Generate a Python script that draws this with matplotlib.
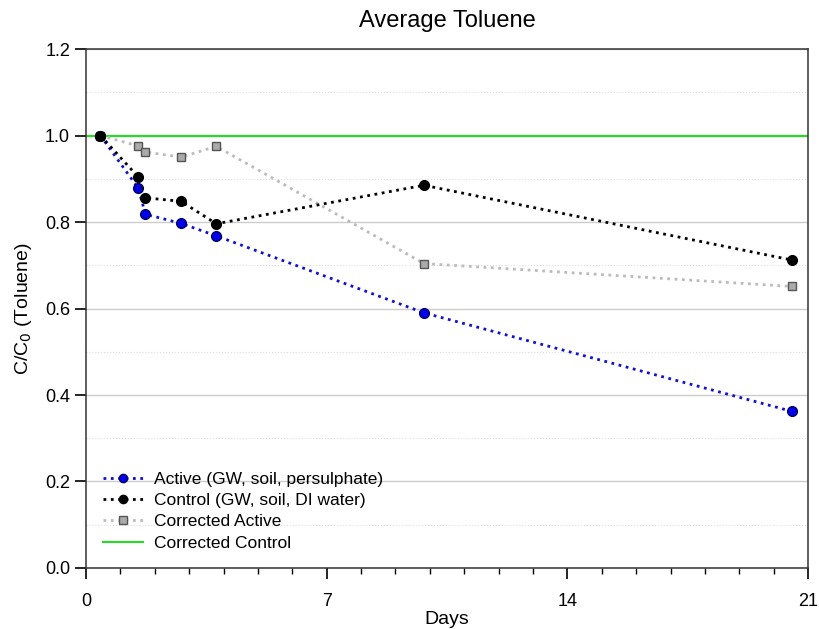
import numpy as np
import matplotlib.pyplot as plt
from matplotlib.ticker import MultipleLocator

plt.rcParams['font.family'] = ['Liberation Sans', 'DejaVu Sans']

# sampling days and normalised concentrations
days = [0.42, 1.52, 1.73, 2.76, 3.79, 9.83, 20.54]
active = [1.0, 0.878, 0.818, 0.797, 0.768, 0.590, 0.362]
control = [1.0, 0.904, 0.856, 0.848, 0.796, 0.885, 0.712]
corr_active = [1.0, 0.976, 0.962, 0.950, 0.975, 0.704, 0.651]
corr_control_days = [0, 21]
corr_control = [1.0, 1.0]

fig = plt.figure(figsize=(8.2, 6.29), dpi=100)
ax = fig.add_axes([0.1049, 0.097, 0.8805, 0.825])

ax.plot(corr_control_days, corr_control, "-", color="#22dd22", lw=1.5,
        label="Corrected Control", zorder=2)
ax.plot(days, active, ":", color="#1010d0", lw=2, marker="o", ms=7,
        mfc="#0000ee", mec="#000060", label="Active (GW, soil, persulphate)", zorder=4)
ax.plot(days, control, ":", color="black", lw=2, marker="o", ms=7,
        mfc="black", mec="black", label="Control (GW, soil, DI water)", zorder=4)
ax.plot(days, corr_active, ":", color="#bbbbbb", lw=2, marker="s", ms=6,
        mfc="#aaaaaa", mec="#555555", label="Corrected Active", zorder=3)

ax.set_xlim(0, 21)
ax.set_ylim(0, 1.2)
ax.xaxis.set_major_locator(MultipleLocator(7))
ax.xaxis.set_minor_locator(MultipleLocator(1))
ax.yaxis.set_major_locator(MultipleLocator(0.2))
ax.yaxis.set_minor_locator(MultipleLocator(0.1))
ax.yaxis.set_major_formatter(plt.FormatStrFormatter("%.1f"))
ax.grid(axis="y", which="major", color="#cccccc", lw=1)
ax.grid(axis="y", which="minor", color="#dddddd", lw=0.8, ls=":")
ax.set_axisbelow(True)
ax.tick_params(which="major", direction="out", length=8, width=1.2, labelsize=13)
ax.tick_params(axis="x", which="minor", direction="out", length=4, width=1)
ax.tick_params(axis="y", which="minor", length=0)
ax.tick_params(axis="x", pad=10)
for s in ax.spines.values():
    s.set_color("#333333")
    s.set_linewidth(1.1)

ax.set_title("Average Toluene", fontsize=17, pad=16)
ax.set_xlabel("Days", fontsize=14, labelpad=0.5)
ax.set_ylabel("C/C$_0$ (Toluene)", fontsize=14, labelpad=8)

h, l = ax.get_legend_handles_labels()
order = [1, 2, 3, 0]
ax.legend([h[i] for i in order], [l[i] for i in order], loc="lower left",
          frameon=False, fontsize=12.5, handlelength=2.3, handletextpad=0.6,
          markerscale=0.85, labelspacing=0.35, borderaxespad=0.6, numpoints=1)

fig.savefig("out.png", dpi=100)
